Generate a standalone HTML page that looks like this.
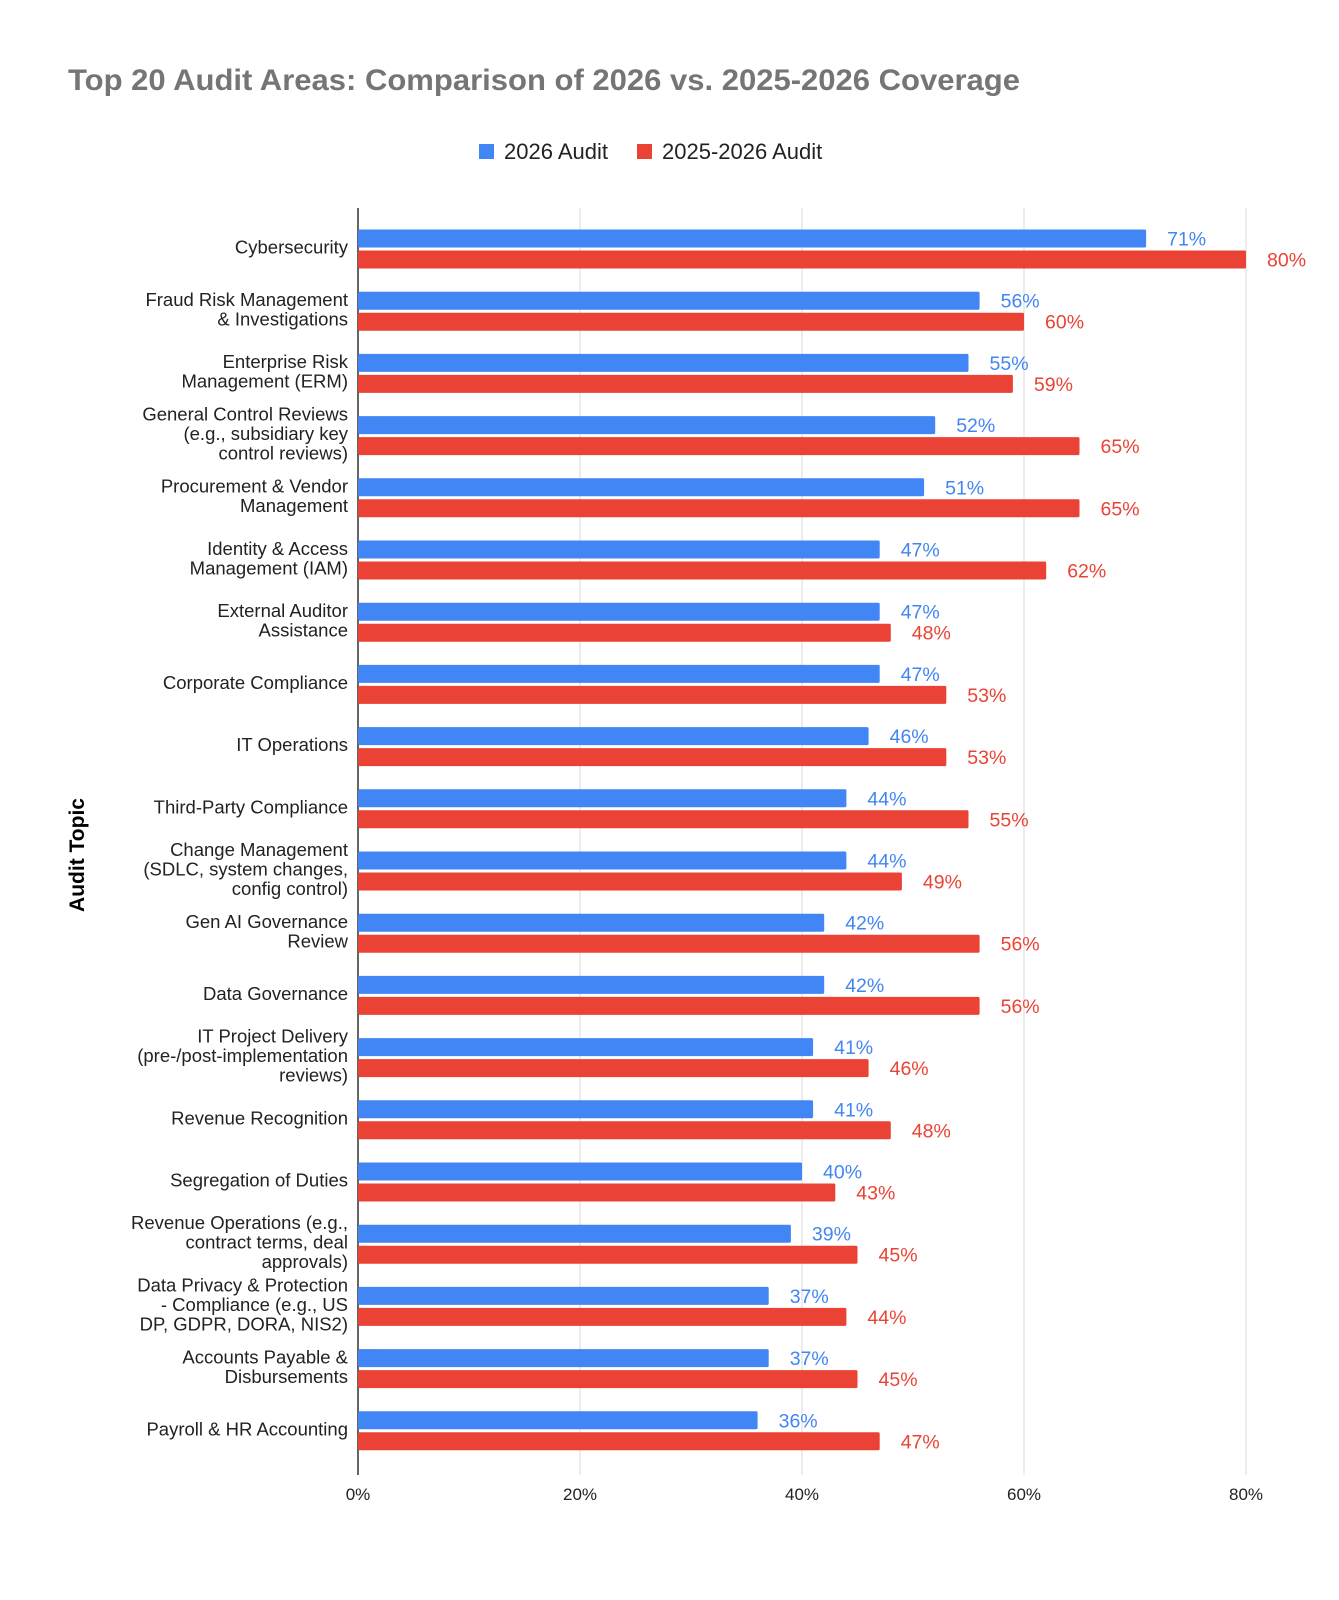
<!DOCTYPE html>
<html><head><meta charset="utf-8"><style>
html,body{margin:0;padding:0;background:#fff;}
svg{display:block;font-family:"Liberation Sans",Arial,sans-serif;}
</style></head><body>
<svg id="chart" width="1339" height="1600" viewBox="0 0 1339 1600" xmlns="http://www.w3.org/2000/svg">
<rect width="1339" height="1600" fill="#fff"/>
<text x="68" y="90" font-size="30" font-weight="bold" fill="#757575" textLength="952" lengthAdjust="spacingAndGlyphs">Top 20 Audit Areas: Comparison of 2026 vs. 2025-2026 Coverage</text>
<g>
<rect x="479" y="144" width="15" height="15" fill="#4285F4"/>
<text x="504" y="159" font-size="22" fill="#222">2026 Audit</text>
<rect x="637" y="144" width="15" height="15" fill="#EA4335"/>
<text x="662" y="159" font-size="22" fill="#222">2025-2026 Audit</text>
</g>
<text transform="translate(84,855) rotate(-90)" text-anchor="middle" font-size="21" font-weight="bold" fill="#000">Audit Topic</text>
<g id="grid"></g><g id="bars"></g><g id="labels"></g>
</svg>
<script>
const categories = [
 ["Cybersecurity"],
 ["Fraud Risk Management","& Investigations"],
 ["Enterprise Risk","Management (ERM)"],
 ["General Control Reviews","(e.g., subsidiary key","control reviews)"],
 ["Procurement & Vendor","Management"],
 ["Identity & Access","Management (IAM)"],
 ["External Auditor","Assistance"],
 ["Corporate Compliance"],
 ["IT Operations"],
 ["Third-Party Compliance"],
 ["Change Management","(SDLC, system changes,","config control)"],
 ["Gen AI Governance","Review"],
 ["Data Governance"],
 ["IT Project Delivery","(pre-/post-implementation","reviews)"],
 ["Revenue Recognition"],
 ["Segregation of Duties"],
 ["Revenue Operations (e.g.,","contract terms, deal","approvals)"],
 ["Data Privacy & Protection","- Compliance (e.g., US","DP, GDPR, DORA, NIS2)"],
 ["Accounts Payable &","Disbursements"],
 ["Payroll & HR Accounting"]
];
const audit2026 = [71,56,55,52,51,47,47,47,46,44,44,42,42,41,41,40,39,37,37,36];
const audit2025_2026 = [80,60,59,65,65,62,48,53,53,55,49,56,56,46,48,43,45,44,45,47];
const xTicks = [0,20,40,60,80];
const xTickLabels = ["0%","20%","40%","60%","80%"];

const NS="http://www.w3.org/2000/svg";
const x0=358, x1=1246, xMax=80;
const xScale=v=>x0+(v/xMax)*(x1-x0);
const firstC=249.5, pitch=62.2;
const yCenter=i=>firstC+i*pitch;
function mk(tag,attrs,parent){const e=document.createElementNS(NS,tag);for(const k in attrs)e.setAttribute(k,attrs[k]);parent.appendChild(e);return e;}
const grid=document.getElementById('grid'),bars=document.getElementById('bars'),labels=document.getElementById('labels');
xTicks.forEach((t,i)=>{
 if(t>0){const g=mk('line',{x1:xScale(t),x2:xScale(t),y1:208,y2:1475,stroke:'#d9d9d9','stroke-width':1},grid);
 
 }
 const tl=mk('text',{x:xScale(t),y:1500,'text-anchor':'middle','font-size':17,fill:'#222'},labels);
 tl.textContent=xTickLabels[i];
 
 
});
const ax=mk('line',{x1:x0,x2:x0,y1:208,y2:1475,stroke:'#333','stroke-width':1.5},grid);


categories.forEach((lines,i)=>{
 const c=yCenter(i);
 const b1=mk('rect',{x:x0,y:c-20,width:xScale(audit2026[i])-x0,height:18,fill:'#4285F4',rx:1.5},bars);
 
 
 const b2=mk('rect',{x:x0,y:c+1,width:xScale(audit2025_2026[i])-x0,height:18,fill:'#EA4335',rx:1.5},bars);
 
 
 const v1=mk('text',{x:xScale(audit2026[i])+21,y:c-4,'font-size':19.5,fill:'#4285F4'},labels);
 v1.textContent=audit2026[i]+'%';
 
 
 const v2=mk('text',{x:xScale(audit2025_2026[i])+21,y:c+17,'font-size':19.5,fill:'#EA4335'},labels);
 v2.textContent=audit2025_2026[i]+'%';
 
 
 const lh=19.5, n=lines.length;
 lines.forEach((ln,j)=>{
  const t=mk('text',{x:348,y:c-2+(j-(n-1)/2)*lh+6,'text-anchor':'end','font-size':18.5,fill:'#222'},labels);
  t.textContent=ln;
  
  
 });
});
</script>
</body></html>
